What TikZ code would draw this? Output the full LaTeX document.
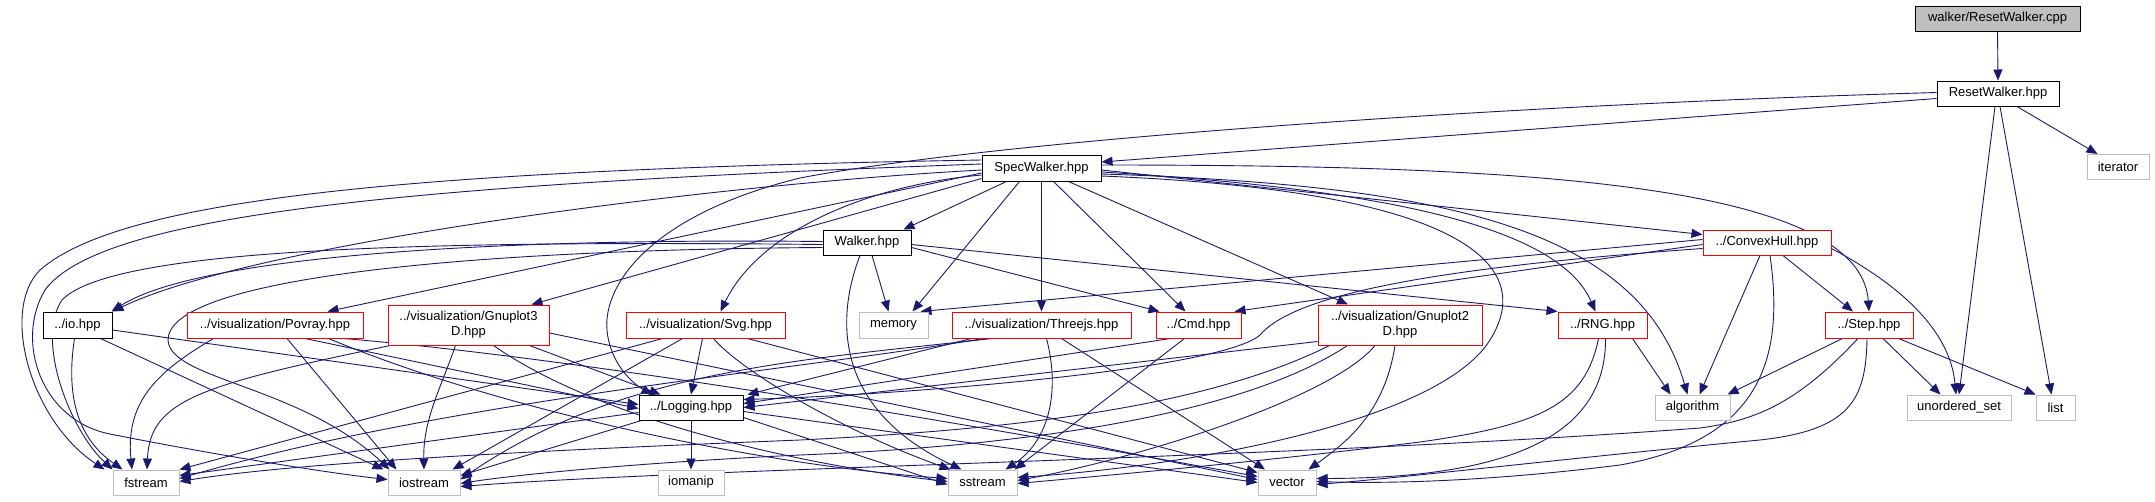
\documentclass[tikz,border=0pt]{standalone}
\usepackage{fontspec}
\setmainfont{Liberation Sans}
\usetikzlibrary{arrows.meta,calc}
\definecolor{edgeblue}{HTML}{191970}
\definecolor{sysgray}{HTML}{BFBFBF}
\pgfdeclarelayer{edgelayer}
\pgfsetlayers{edgelayer,main}
\begin{document}
\begin{tikzpicture}[x=1pt,y=-1pt,
  box/.style={line width=1pt, minimum height=25pt, inner sep=0pt, fill=white,
    font=\fontsize{13}{15}\selectfont, align=center, anchor=center},
  proj/.style={box, draw=black},
  trunc/.style={box, draw=red},
  sys/.style={box, draw=sysgray},
  root/.style={box, draw=black, fill=sysgray},
  e/.style={draw=edgeblue, line width=0.9pt, -{Triangle[length=11pt,width=9pt]}}]
\path[use as bounding box] (0,0) rectangle (2155,501);
% nodes
\node[root, minimum width=165pt] (cpp) at (1997.5,18.5) {walker/ResetWalker.cpp};
\node[proj, minimum width=122pt] (rwh) at (1998,93.5) {ResetWalker.hpp};
\node[sys, minimum width=62pt] (iterator) at (2118,167) {iterator};
\node[proj, minimum width=119pt, minimum height=26pt] (spec) at (1041.5,168) {SpecWalker.hpp};
\node[proj, minimum width=88pt] (walker) at (867,242.5) {Walker.hpp};
\node[trunc, minimum width=128pt] (convex) at (1767,242.5) {../ConvexHull.hpp};
\node[proj, minimum width=69pt, minimum height=26pt] (io) at (77.5,325) {../io.hpp};
\node[trunc, minimum width=176pt, minimum height=26pt] (povray) at (275,325) {../visualization/Povray.hpp};
\node[trunc, minimum width=161pt, minimum height=40pt] (g3d) at (468.5,325) {../visualization/Gnuplot3\\D.hpp};
\node[trunc, minimum width=159pt, minimum height=26pt] (svg) at (705.5,325) {../visualization/Svg.hpp};
\node[sys, minimum width=69pt, minimum height=26pt] (memory) at (893.5,325) {memory};
\node[trunc, minimum width=179pt, minimum height=26pt] (threejs) at (1041.5,325) {../visualization/Threejs.hpp};
\node[trunc, minimum width=85pt, minimum height=26pt] (cmd) at (1198.5,325) {../Cmd.hpp};
\node[trunc, minimum width=164pt, minimum height=40pt] (g2d) at (1400,325) {../visualization/Gnuplot2\\D.hpp};
\node[trunc, minimum width=89pt, minimum height=26pt] (rng) at (1602.5,325) {../RNG.hpp};
\node[trunc, minimum width=88pt, minimum height=26pt] (step) at (1869,325) {../Step.hpp};
\node[proj, minimum width=104pt] (logging) at (691,407.5) {../Logging.hpp};
\node[sys, minimum width=75pt] (algorithm) at (1692.5,407.5) {algorithm};
\node[sys, minimum width=104pt] (uset) at (1959,407.5) {unordered\_set};
\node[sys, minimum width=39pt] (list) at (2055.5,407.5) {list};
\node[sys, minimum width=66pt] (fstream) at (146,482.5) {fstream};
\node[sys, minimum width=72pt] (iostream) at (424,482.5) {iostream};
\node[sys, minimum width=66pt] (iomanip) at (691,482.5) {iomanip};
\node[sys, minimum width=69pt] (sstream) at (982.5,482.5) {sstream};
\node[sys, minimum width=58pt] (vector) at (1287,482.5) {vector};
\begin{pgfonlayer}{edgelayer}
% ResetWalker
\draw[e] (cpp.south) -- (rwh.north);
\draw[e] ($(rwh.west)+(0,5)$) -- ($(spec.east)+(0,-6)$);
\draw[e] ($(rwh.west)+(0,-1)$) .. controls (1500,105) and (1000,140) .. (800,178) .. controls (650,215) and (603,285) .. (607,330) .. controls (610,365) and (635,385) .. ($(logging.north west)+(14,0)$);
\draw[e] ($(rwh.south)+(19,0)$) -- ($(iterator.north west)+(11,0)$);
\draw[e] ($(rwh.south)+(-3,0)$) -- (uset.north);
\draw[e] ($(rwh.south)+(2,0)$) -- ($(list.north)+(-4,0)$);
% SpecWalker
\draw[e] ($(spec.south west)+(25,0)$) -- ($(walker.north east)+(-8,0)$);
\draw[e] ($(spec.south west)+(38,0)$) -- ($(memory.north east)+(-16,0)$);
\draw[e] (spec.south) -- (threejs.north);
\draw[e] ($(spec.south)+(12,0)$) -- ($(cmd.north)+(-13,0)$);
\draw[e] ($(spec.south)+(27,0)$) -- ($(g2d.north)+(-52,0)$);
\draw[e] ($(spec.east)+(0,2)$) -- ($(convex.west)+(0,-8)$);
\draw[e] ($(spec.east)+(0,4)$) .. controls (1400,190) and (1560,230) .. ($(rng.north)+(-7,0)$);
\draw[e] ($(spec.east)+(0,6)$) .. controls (1450,185) and (1640,230) .. ($(algorithm.north)+(-5,0)$);
\draw[e] ($(spec.east)+(0,-3)$) .. controls (1500,165) and (1860,180) .. (step.north);
\draw[e] ($(spec.east)+(0,8)$) .. controls (1450,190) and (1540,260) .. (1490,340) .. controls (1440,420) and (1200,465) .. ($(sstream.east)+(0,-5)$);
\draw[e] ($(spec.west)+(0,7)$) .. controls (870,185) and (760,230) .. ($(svg.north)+(15,0)$);
\draw[e] ($(spec.south west)+(0,-3)$) -- ($(g3d.north east)+(-18,0)$);
\draw[e] ($(spec.west)+(0,5)$) -- ($(povray.north east)+(-36,0)$);
\draw[e] ($(spec.west)+(0,2)$) .. controls (700,185) and (250,245) .. (io.north east);
\draw[e] ($(spec.west)+(0,-8)$) .. controls (400,170) and (120,200) .. (40,270) .. controls (0,310) and (30,420) .. ($(fstream.north west)+(-8,0)$);
\draw[e] ($(spec.west)+(0,-4)$) .. controls (400,185) and (100,215) .. (45,290) .. controls (15,340) and (40,420) .. (110,434) .. controls (200,452) and (320,472) .. ($(iostream.west)+(0,-3)$);
% Walker
\draw[e] ($(walker.west)+(0,-1)$) .. controls (500,238) and (200,255) .. ($(io.north east)+(-1,0)$);
\draw[e] ($(walker.west)+(0,2)$) .. controls (400,240) and (110,250) .. (62,300) .. controls (35,340) and (70,430) .. (fstream.north west);
\draw[e] ($(walker.west)+(0,5)$) .. controls (450,250) and (168,280) .. (168,340) .. controls (170,380) and (300,385) .. ($(iostream.north west)+(2,0)$);
\draw[e] ($(walker.south)+(5,0)$) -- ($(memory.north)+(-5,0)$);
\draw[e] ($(walker.east)+(0,5)$) -- ($(cmd.north west)+(4,0)$);
\draw[e] ($(walker.east)+(0,2)$) -- (rng.north west);
\draw[e] ($(walker.south)+(-7,0)$) .. controls (835,320) and (835,410) .. ($(sstream.north west)+(14,0)$);
% io
\draw[e] ($(io.south)+(-3,0)$) .. controls (65,400) and (80,440) .. ($(fstream.north west)+(10,0)$);
\draw[e] ($(io.south east)+(-12,0)$) -- ($(iostream.north west)+(-4,0)$);
\draw[e] ($(io.east)+(0,5)$) -- ($(logging.west)+(0,-3)$);
% Povray
\draw[e] ($(povray.south west)+(27,0)$) .. controls (160,370) and (125,400) .. ($(fstream.north)+(-14,0)$);
\draw[e] ($(povray.south)+(12,0)$) -- ($(iostream.north west)+(9,0)$);
\draw[e] ($(povray.south)+(30,0)$) -- ($(logging.west)+(0,1)$);
\draw[e] ($(povray.south east)+(-35,0)$) .. controls (500,410) and (760,465) .. ($(sstream.west)+(0,-4)$);
\draw[e] ($(povray.south east)+(-20,0)$) .. controls (600,360) and (1000,430) .. ($(vector.west)+(0,-6)$);
% Gnuplot3D
\draw[e] ($(g3d.south west)+(3,0)$) .. controls (200,385) and (150,400) .. ($(fstream.north)+(1,0)$);
\draw[e] ($(g3d.south)+(-13,0)$) .. controls (440,390) and (423,420) .. (iostream.north);
\draw[e] ($(g3d.south east)+(-20,0)$) -- ($(logging.north west)+(22,0)$);
\draw[e] ($(g3d.south)+(25,0)$) .. controls (600,420) and (800,465) .. ($(sstream.west)+(0,-1)$);
\draw[e] ($(g3d.east)+(0,8)$) -- ($(vector.west)+(0,-3)$);
% Svg
\draw[e] ($(svg.south west)+(37,0)$) -- (fstream.north east);
\draw[e] ($(svg.south west)+(57,0)$) -- ($(iostream.north east)+(-8,0)$);
\draw[e] ($(svg.south)+(-3,0)$) -- (logging.north);
\draw[e] ($(svg.south)+(8,0)$) .. controls (740,370) and (840,430) .. ($(sstream.north west)+(3,0)$);
\draw[e] ($(svg.south east)+(-38,0)$) -- ($(vector.west)+(0,-10)$);
% Threejs
\draw[e] ($(threejs.south west)+(20,0)$) -- ($(logging.north east)+(4,0)$);
\draw[e] ($(threejs.south west)+(32,0)$) .. controls (800,370) and (450,400) .. ($(fstream.east)+(0,-4)$);
\draw[e] ($(threejs.south west)+(41,0)$) .. controls (800,360) and (620,370) .. ($(iostream.east)+(0,-3)$);
\draw[e] ($(threejs.south)+(5,0)$) .. controls (1060,390) and (1050,440) .. ($(sstream.north east)+(-12,0)$);
\draw[e] ($(threejs.south)+(20,0)$) -- ($(vector.north)+(-22,0)$);
% Cmd
\draw[e] ($(cmd.south west)+(15,0)$) -- ($(logging.east)+(0,-4)$);
\draw[e] ($(cmd.south)+(-14,0)$) -- ($(sstream.north east)+(-3,0)$);
% Gnuplot2D
\draw[e] ($(g2d.south west)+(0,-4)$) -- ($(logging.east)+(0,0)$);
\draw[e] ($(g2d.south west)+(12,0)$) .. controls (1200,410) and (1000,430) .. (800,440) .. controls (550,450) and (300,462) .. ($(fstream.east)+(0,-1)$);
\draw[e] ($(g2d.south west)+(30,0)$) .. controls (1250,410) and (1050,445) .. (800,455) .. controls (650,462) and (520,474) .. ($(iostream.east)+(0,1)$);
\draw[e] ($(g2d.south)+(-25,0)$) .. controls (1330,400) and (1130,460) .. ($(sstream.east)+(0,-2)$);
\draw[e] ($(g2d.south)+(-5,0)$) .. controls (1385,410) and (1350,440) .. ($(vector.north east)+(-8,0)$);
% RNG
\draw[e] ($(rng.south east)+(-15,0)$) -- ($(algorithm.north west)+(16,0)$);
\draw[e] ($(rng.south)+(-4,0)$) .. controls (1585,405) and (1540,425) .. (1420,442) .. controls (1260,462) and (1100,476) .. ($(sstream.east)+(0,1)$);
\draw[e] ($(rng.south)+(3,0)$) .. controls (1606,420) and (1540,478) .. ($(vector.east)+(0,-4)$);
% ConvexHull
\draw[e] ($(convex.west)+(0,-3)$) -- ($(memory.north east)+(-8,0)$);
\draw[e] ($(convex.west)+(0,2)$) -- ($(cmd.north east)+(-7,0)$);
\draw[e] ($(convex.west)+(0,6)$) .. controls (1400,270) and (1290,300) .. (1260,335) .. controls (1220,370) and (900,395) .. ($(logging.east)+(0,-8)$);
\draw[e] ($(convex.south)+(16,0)$) -- ($(step.north)+(-16,0)$);
\draw[e] ($(convex.south)+(-7,0)$) -- ($(algorithm.north)+(7,0)$);
\draw[e] ($(convex.south)+(3,0)$) .. controls (1785,360) and (1760,440) .. (1620,465) .. controls (1500,480) and (1400,484) .. ($(vector.east)+(0,-1)$);
\draw[e] ($(convex.east)+(0,6)$) .. controls (1900,285) and (1950,330) .. ($(uset.north)+(-3,0)$);
% Step
\draw[e] ($(step.south west)+(18,0)$) -- ($(algorithm.north east)+(-3,0)$);
\draw[e] ($(step.south)+(14,0)$) -- ($(uset.north west)+(34,0)$);
\draw[e] ($(step.south east)+(-15,0)$) -- (list.north west);
\draw[e] ($(step.south)+(-2,0)$) .. controls (1866,400) and (1850,430) .. (1760,440) .. controls (1600,455) and (1400,478) .. ($(vector.east)+(0,2)$);
\draw[e] ($(step.south)+(-11,0)$) .. controls (1800,400) and (1760,420) .. (1700,428) .. controls (1300,458) and (700,468) .. ($(iostream.east)+(0,4)$);
% Logging
\draw[e] (logging.south) -- (iomanip.north);
\draw[e] ($(logging.west)+(0,5)$) -- ($(fstream.east)+(0,-7)$);
\draw[e] ($(logging.south west)+(3,0)$) -- ($(iostream.east)+(0,-7)$);
\draw[e] ($(logging.south east)+(0,-3)$) -- ($(sstream.west)+(0,2)$);
\draw[e] ($(logging.east)+(0,4)$) -- ($(vector.west)+(0,0)$);
\end{pgfonlayer}
\end{tikzpicture}
\end{document}
